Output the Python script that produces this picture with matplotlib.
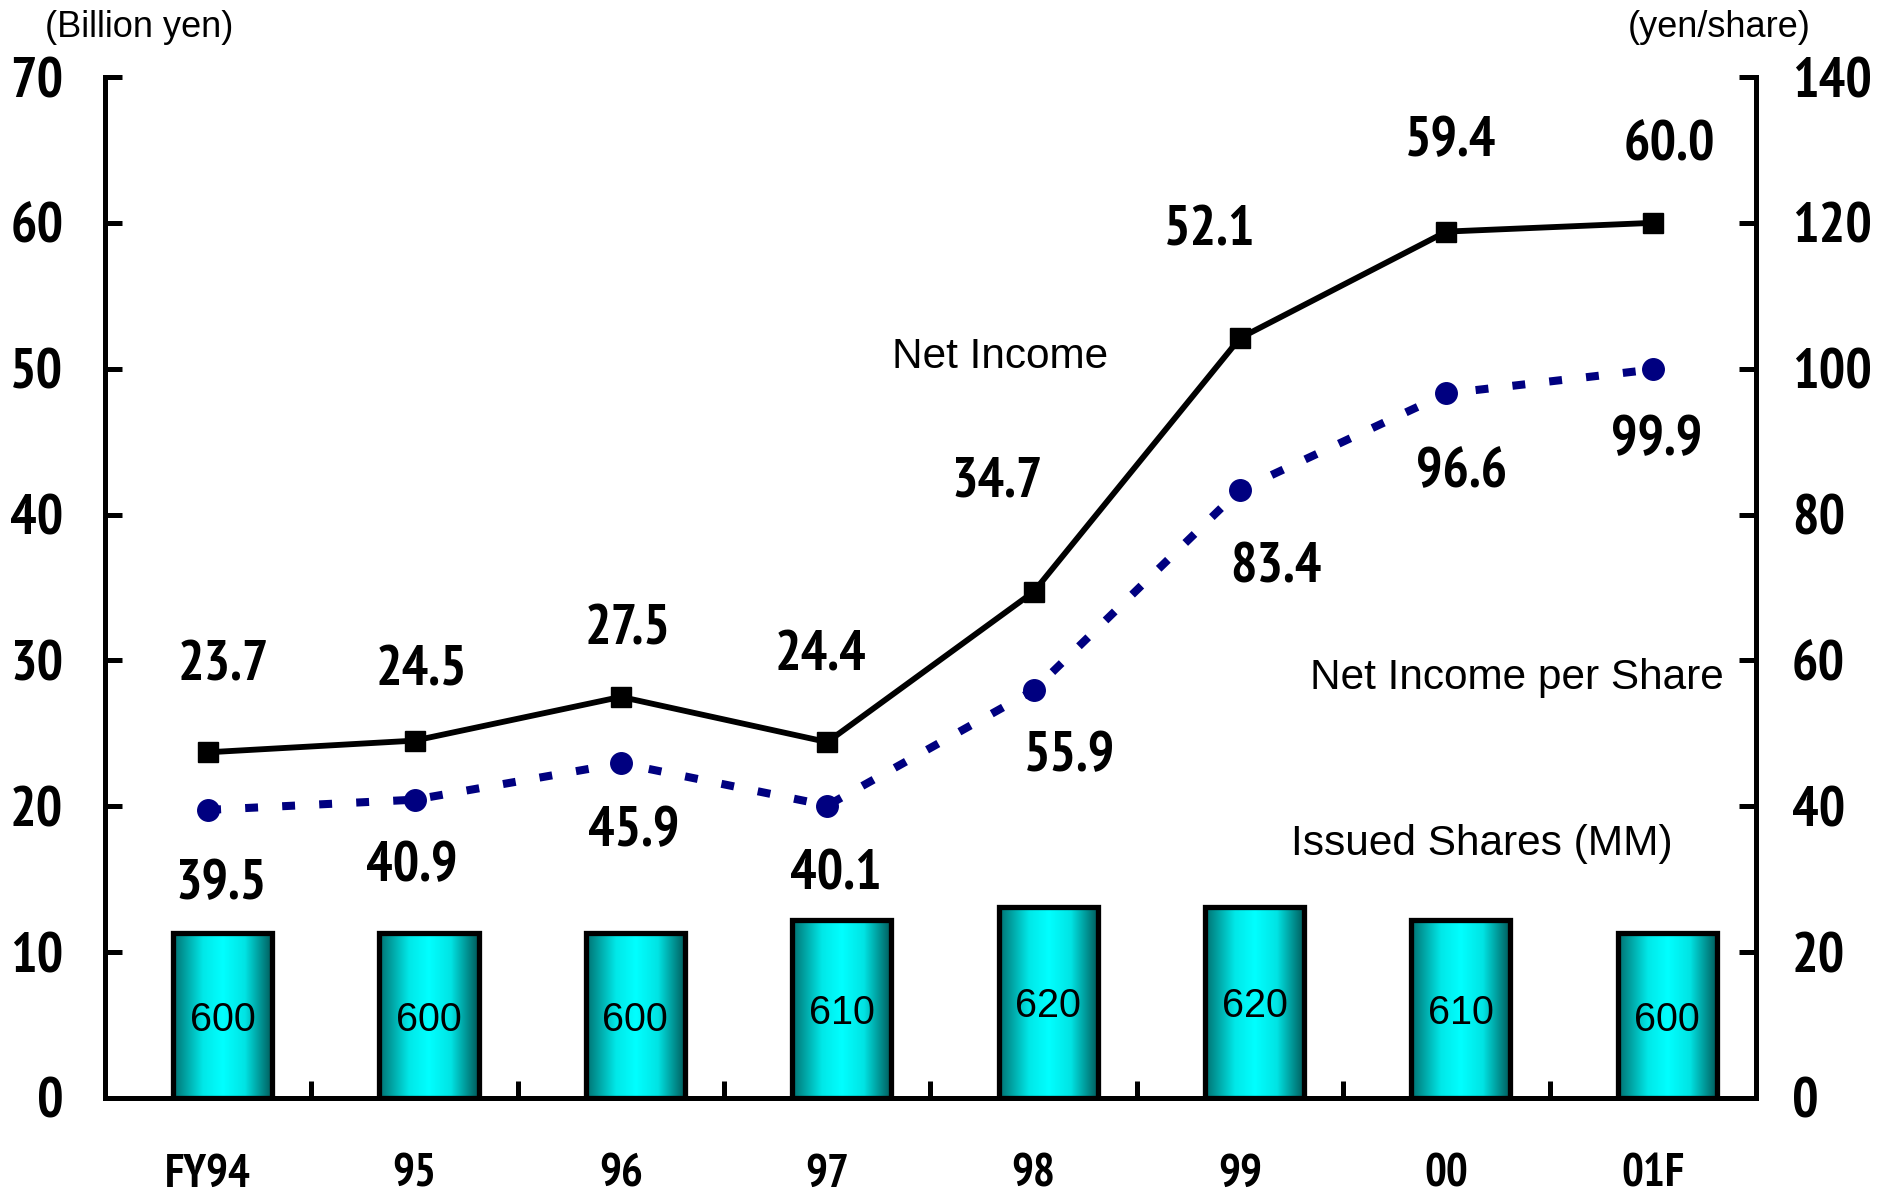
import re
import numpy as np
import matplotlib
matplotlib.use("Agg")
import matplotlib.pyplot as plt
from matplotlib import font_manager
from matplotlib.font_manager import FontProperties
from matplotlib.colors import LinearSegmentedColormap

# -------------------------------
# Data
# -------------------------------
years = ["FY94", "95", "96", "97", "98", "99", "00", "01F"]
net_income = [23.7, 24.5, 27.5, 24.4, 34.7, 52.1, 59.4, 60.0]      # billion yen
eps = [39.5, 40.9, 45.9, 40.1, 55.9, 83.4, 96.6, 99.9]             # yen/share
shares = [600, 600, 600, 610, 620, 620, 610, 600]                  # MM

# label nudges (points) for the value labels
ni_off = [(11, 62), (5, 50), (5, 48), (-5, 62), (-26, 79), (-22, 77), (3, 65), (12, 55)]
eps_off = [(9, -54), (-2, -48), (9, -49), (6, -50), (26, -48), (26, -56), (11, -57), (3, -51)]

# -------------------------------
# Fonts: look for a narrow / condensed bold face on the system
# -------------------------------
def find_narrow_bold():
    files = [f.fname for f in font_manager.fontManager.ttflist]
    prefs = [r"narrow", r"(?<!semi)(?<!extra)(?<!ultra)condensed", r"semicondensed"]
    for p in prefs:
        for fn in sorted(files):
            low = fn.lower().replace("-", "").replace("_", "")
            if "italic" in low or "oblique" in low or "mono" in low:
                continue
            if not re.search(p, low):
                continue
            if "bold" in low and "semibold" not in low and "extrabold" not in low:
                return fn
    return None

nb = find_narrow_bold()

def bold_fp(size):
    if nb:
        return FontProperties(fname=nb, size=size)
    return FontProperties(family="Liberation Sans", weight="bold", size=size * 0.8)

arial = dict(family="Liberation Sans")

fig = plt.figure(figsize=(18.78, 11.92), dpi=100)
ax = fig.add_axes([0.0559, 0.0789, 0.8791, 0.8565])
axb = ax.twinx()   # bars (issued shares)
ax2 = ax.twinx()   # EPS

x = np.arange(len(years))
ax.set_xlim(-0.5, len(years) - 0.5)
ax.set_ylim(0, 70)
ax2.set_ylim(0, 140)

# -------------------------------
# Bars with horizontal cyan gradient
# -------------------------------
cmap = LinearSegmentedColormap.from_list(
    "cy", [(0, "#007070"), (0.3, "#00e8e8"), (0.5, "#00ffff"),
           (0.72, "#00e4e4"), (1, "#005858")])
grad = np.linspace(0, 1, 256).reshape(1, -1)
bar_shift = 0.07
bars = axb.bar(x + bar_shift, [s - 475 for s in shares], bottom=475, width=0.48,
               color="none", edgecolor="black", linewidth=3.8, zorder=3)
for b, s in zip(bars, shares):
    x0, y0 = b.get_x(), b.get_y()
    im = axb.imshow(grad, cmap=cmap, aspect="auto", zorder=2,
                    extent=[x0, x0 + b.get_width(), y0, y0 + b.get_height()])
    im.set_clip_path(b)
    axb.text(x0 + b.get_width() / 2, y0 + b.get_height() / 2 - 3, str(s),
             ha="center", va="center", fontsize=28.5, zorder=4, **arial)
axb.set_xlim(-0.5, len(years) - 0.5)
axb.set_ylim(475, 1250)
axb.axis("off")

# -------------------------------
# Lines
# -------------------------------
ax.plot(x, net_income, color="black", lw=4.2, marker="s", markersize=14, zorder=5)
ax2.plot(x, eps, color="#000080", lw=5.8, dashes=(1.6, 3.0), marker="o",
         markersize=15.5, zorder=5)

for xi, v, (dx, dy) in zip(x, net_income, ni_off):
    ax.annotate(f"{v:.1f}", (xi, v), xytext=(dx, dy), textcoords="offset points",
                ha="center", va="center", fontproperties=bold_fp(40))
for xi, v, (dx, dy) in zip(x, eps, eps_off):
    ax2.annotate(f"{v:.1f}", (xi, v), xytext=(dx, dy), textcoords="offset points",
                 ha="center", va="center", fontproperties=bold_fp(40))

# series names
ax.text(3.835, 50.8, "Net Income", ha="center", va="center", fontsize=30.5, **arial)
ax.text(6.34, 28.8, "Net Income per Share", ha="center", va="center", fontsize=30.5, **arial)
ax.text(6.17, 17.4, "Issued Shares (MM)", ha="center", va="center", fontsize=30.5, **arial)

# -------------------------------
# Axes styling
# -------------------------------
for a in (ax, ax2):
    a.spines["top"].set_visible(False)
    for sp in a.spines.values():
        sp.set_linewidth(3.6)
ax.spines["right"].set_visible(False)
ax2.spines["left"].set_visible(False)
ax2.spines["bottom"].set_visible(False)

ax.set_yticks(range(0, 71, 10))
ax2.set_yticks(range(0, 141, 20))
ax.tick_params(axis="y", direction="in", length=12, width=3.6, pad=30)
ax2.tick_params(axis="y", direction="in", length=12, width=3.6, pad=26)
for t in ax.get_yticklabels() + ax2.get_yticklabels():
    t.set_fontproperties(bold_fp(40))

ax.set_xticks(x)
ax.set_xticklabels(years)
ax.set_xticks(x[:-1] + 0.5, minor=True)
ax.tick_params(axis="x", which="major", length=0, pad=40)
ax.tick_params(axis="x", which="minor", direction="in", length=12, width=3.6)
for t in ax.get_xticklabels():
    t.set_fontproperties(bold_fp(33))

fig.text(0.074, 0.977, "(Billion yen)", ha="center", va="center", fontsize=26, **arial)
fig.text(0.9153, 0.977, "(yen/share)", ha="center", va="center", fontsize=26, **arial)

fig.savefig("out.png", dpi=100)
